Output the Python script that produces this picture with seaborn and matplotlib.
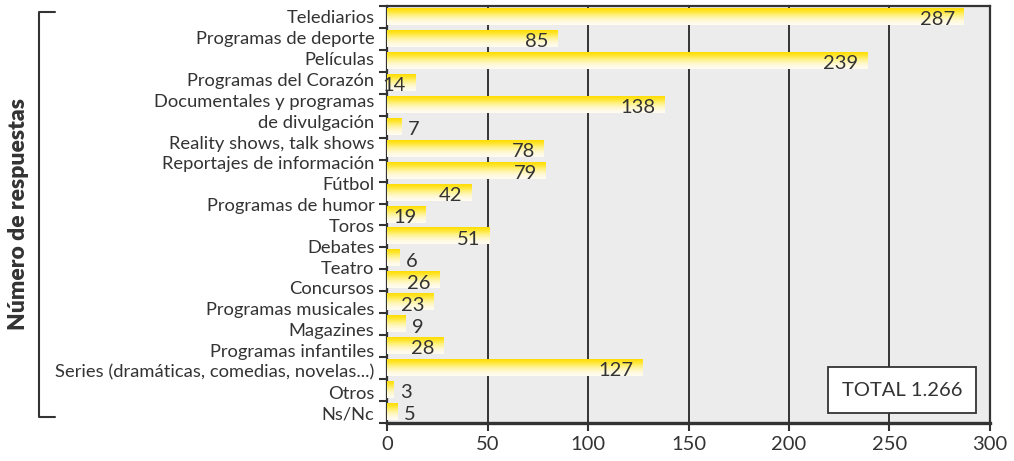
import numpy as np
import matplotlib
matplotlib.use("Agg")
import matplotlib.pyplot as plt
from matplotlib.colors import LinearSegmentedColormap
from matplotlib.lines import Line2D
import pandas as pd
import seaborn as sns

categories = [
    "Telediarios", "Programas de deporte", "Películas", "Programas del Corazón",
    "Documentales y programas\nde divulgación", "Reality shows, talk shows",
    "Reportajes de información", "Fútbol", "Programas de humor", "Toros",
    "Debates", "Teatro", "Concursos", "Programas musicales", "Magazines",
    "Programas infantiles", "Series (dramáticas, comedias, novelas...)",
    "Otros", "Ns/Nc",
]
values = [287, 85, 239, 14, 138, 7, 78, 79, 42, 19, 51, 6, 26, 23, 9, 28, 127, 3, 5]
x_ticks = [0, 50, 100, 150, 200, 250, 300]
total_text = "TOTAL 1.266"
y_title = "Número de respuestas"

sns.set_theme(style="white")
plt.rcParams['font.family'] = ['Lato', 'DejaVu Sans']

df = pd.DataFrame({"cat": categories, "val": values})
n = len(df)

fig = plt.figure(figsize=(10.14, 4.61), dpi=100)
ax = fig.add_axes([0.3817, 0.0824, 0.5946, 0.9046])
ax.set_facecolor("#ececec")

sns.barplot(data=df, x="val", y="cat", orient="h", color="#ffe000",
            width=0.73, ax=ax, zorder=3)

# gradient fill on every bar (yellow on top fading to cream)
cmap = LinearSegmentedColormap.from_list(
    "yel", ["#ffdc00", "#ffe733", "#fff07a", "#fff6b8", "#fffae0", "#fffdf2"])
grad = np.linspace(0, 1, 64).reshape(-1, 1)
for p in ax.patches:
    x0, y0 = p.get_x(), p.get_y()
    w, h = p.get_width(), p.get_height()
    p.set_visible(False)
    ax.imshow(grad, cmap=cmap, aspect="auto", origin="upper",
              extent=(x0, x0 + w, y0 + h, y0), zorder=3, interpolation="bilinear")

ax.set_xlim(0, 300)
ax.set_ylim(n - 0.5, -0.5)
ax.set_xticks(x_ticks)
ax.tick_params(axis="x", labelsize=14.5, length=6, width=1.5, color="#333333",
               labelcolor="#333333", pad=3, direction="out", bottom=True)
for xv in x_ticks[1:-1]:
    ax.axvline(xv, color="#333333", lw=1.4, zorder=2)

# category labels: lines evenly spread over the axis height
lines = []
for c in categories:
    lines.extend(c.split("\n"))
m = len(lines)
slot_px = 417.0 / n
first = -0.5 + 11.0 / slot_px
last = n - 0.5 - 10.0 / slot_px
label_pos = np.linspace(first, last, m)
ax.set_yticks(label_pos)
ax.set_yticklabels(lines, fontsize=13.2, color="#333333")
ax.tick_params(axis="y", which="major", length=0, pad=9)
ax.set_yticks(np.arange(-0.5, n, 1.0), minor=True)
ax.tick_params(axis="y", which="minor", length=6, width=1.5, color="#333333",
               left=True, direction="out")
ax.set_ylabel("")
ax.set_xlabel("")

for s in ax.spines.values():
    s.set_color("#333333")
    s.set_linewidth(1.6)
ax.spines["bottom"].set_linewidth(2.4)

# value labels
for i, v in enumerate(values):
    if v >= 10:
        ax.annotate(str(v), (v, i), xytext=(-6.5, -2), textcoords="offset points",
                    ha="right", va="center", fontsize=14.5, color="#333333", zorder=5)
    else:
        ax.annotate(str(v), (v, i), xytext=(5, -2), textcoords="offset points",
                    ha="left", va="center", fontsize=14.5, color="#333333", zorder=5)

ax.text(0.854, 0.079, total_text, transform=ax.transAxes, ha="center", va="center",
        fontsize=14.5, color="#333333", zorder=6,
        bbox=dict(boxstyle="square,pad=0.7", fc="white", ec="#333333", lw=1.3))

# y title and bracket
fig.text(0.018, 0.535, y_title, rotation=90, ha="center", va="center",
         fontsize=16.5, fontweight="heavy", color="#333333")
bx0, bx1 = 39 / 1014, 55 / 1014
by0, by1 = 1 - 417 / 461, 1 - 12 / 461
fig.add_artist(Line2D([bx1, bx0, bx0, bx1], [by1, by1, by0, by0],
                      color="#333333", lw=1.5))

fig.savefig("out.png", dpi=100)
